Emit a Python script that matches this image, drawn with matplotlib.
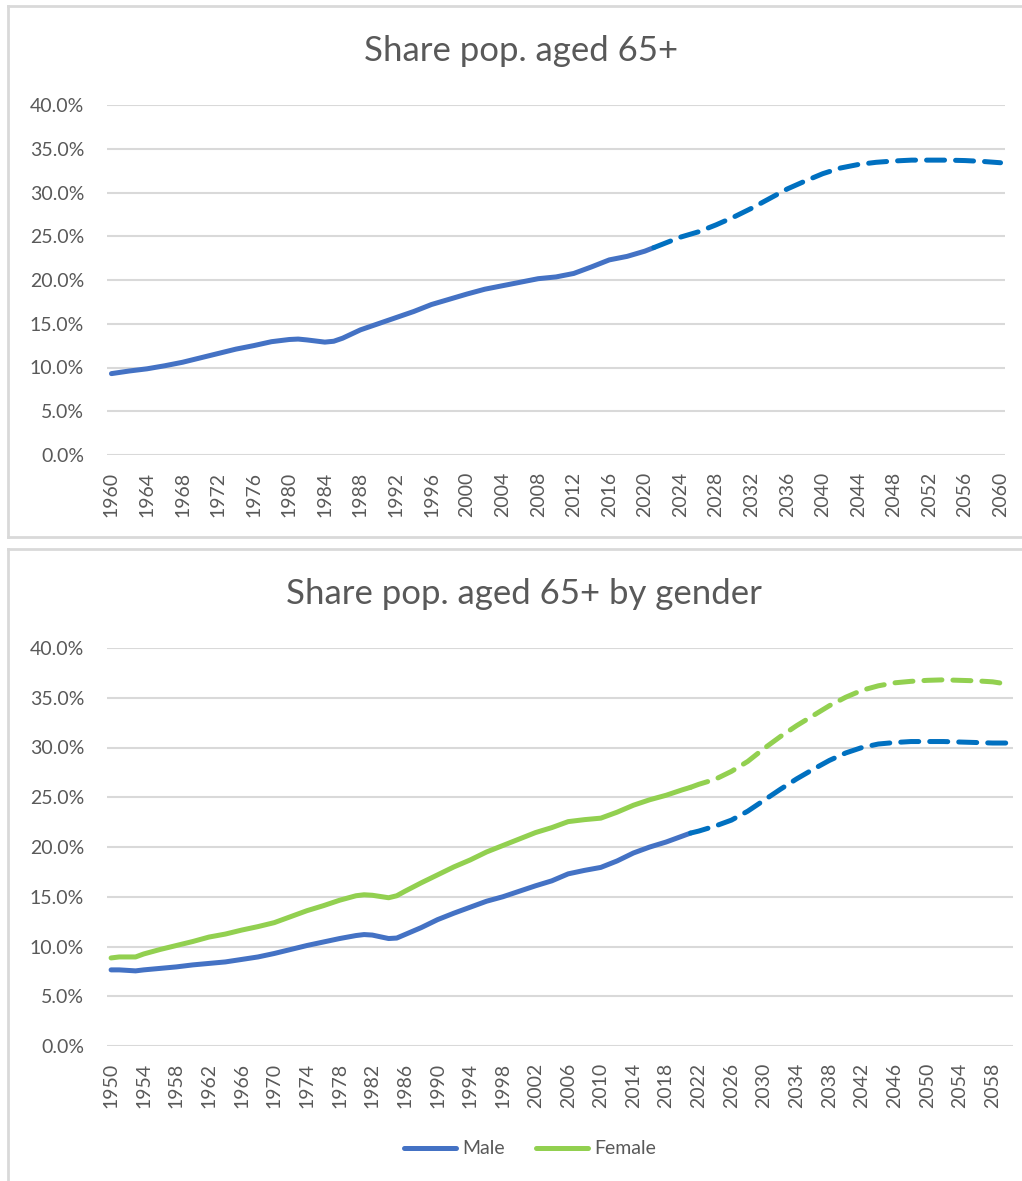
import matplotlib
matplotlib.use('Agg')
import matplotlib.pyplot as plt
from matplotlib.lines import Line2D
from matplotlib.ticker import FuncFormatter

plt.rcParams['font.family'] = ['Lato', 'DejaVu Sans']

# --- top chart: total share aged 65+ (percent) ---
tot_years = [1960, 1962, 1964, 1966, 1968, 1970, 1972, 1974, 1976, 1978, 1980, 1981,
             1982, 1984, 1985, 1986, 1988, 1990, 1992, 1994, 1996, 1998, 2000, 2002,
             2004, 2006, 2008, 2010, 2012, 2014, 2016, 2018, 2020, 2021]
tot_vals = [9.3, 9.6, 9.85, 10.2, 10.6, 11.1, 11.6, 12.1, 12.5, 12.95, 13.2, 13.25,
            13.15, 12.9, 13.0, 13.35, 14.3, 15.0, 15.7, 16.4, 17.2, 17.8, 18.4, 18.95,
            19.35, 19.75, 20.15, 20.35, 20.75, 21.5, 22.3, 22.7, 23.3, 23.7]
tot_proj_years = [2021, 2024, 2026, 2028, 2030, 2032, 2034, 2036, 2038, 2040, 2042,
                  2044, 2046, 2048, 2050, 2052, 2054, 2056, 2058, 2060]
tot_proj_vals = [23.7, 24.9, 25.5, 26.3, 27.2, 28.2, 29.3, 30.4, 31.3, 32.15, 32.8,
                 33.2, 33.45, 33.6, 33.7, 33.7, 33.7, 33.65, 33.55, 33.4]

# --- bottom chart: by gender (percent) ---
hist_years = [1950, 1951, 1952, 1953, 1954, 1956, 1958, 1960, 1962, 1964, 1966, 1968,
              1970, 1972, 1974, 1976, 1978, 1980, 1981, 1982, 1984, 1985, 1986, 1988,
              1990, 1992, 1994, 1996, 1998, 2000, 2002, 2004, 2006, 2008, 2010, 2012,
              2014, 2016, 2018, 2020, 2021]
male_vals = [7.65, 7.65, 7.6, 7.55, 7.65, 7.8, 7.95, 8.15, 8.3, 8.45, 8.7, 8.95,
             9.3, 9.7, 10.1, 10.45, 10.8, 11.1, 11.2, 11.15, 10.8, 10.85, 11.2, 11.9,
             12.7, 13.35, 13.95, 14.55, 15.0, 15.55, 16.1, 16.6, 17.3, 17.65, 17.95, 18.6,
             19.4, 20.0, 20.5, 21.1, 21.4]
female_vals = [8.85, 8.95, 8.95, 8.95, 9.25, 9.7, 10.1, 10.5, 10.95, 11.25, 11.65, 12.0,
               12.4, 13.0, 13.6, 14.1, 14.65, 15.1, 15.2, 15.15, 14.9, 15.1, 15.55, 16.4,
               17.2, 18.0, 18.7, 19.5, 20.15, 20.8, 21.45, 21.95, 22.55, 22.75, 22.9, 23.5,
               24.2, 24.75, 25.2, 25.75, 26.0]
proj_years = [2021, 2022, 2024, 2026, 2028, 2030, 2032, 2034, 2036, 2038, 2040, 2042,
              2044, 2046, 2048, 2050, 2052, 2054, 2056, 2058, 2060]
male_proj = [21.4, 21.6, 22.1, 22.7, 23.6, 24.7, 25.8, 26.85, 27.8, 28.7, 29.45, 30.0,
             30.35, 30.5, 30.6, 30.6, 30.6, 30.55, 30.5, 30.45, 30.45]
female_proj = [26.0, 26.3, 26.8, 27.6, 28.6, 29.9, 31.1, 32.2, 33.2, 34.2, 35.05, 35.75,
               36.2, 36.5, 36.65, 36.75, 36.8, 36.75, 36.7, 36.6, 36.35]

BLUE = '#4472C4'
BLUE_D = '#0070C0'
GREEN = '#92D050'
TXT = '#595959'
GRID = '#D9D9D9'

W, H = 1022, 1181
fig = plt.figure(figsize=(W / 100, H / 100), dpi=100)


def px_axes(left, top, right, bottom):
    return fig.add_axes([left / W, 1 - bottom / H, (right - left) / W, (bottom - top) / H])


def panel_border(top, bottom=None):
    kw = dict(transform=fig.transFigure, color=GRID, lw=2)
    fig.add_artist(Line2D([8 / W, 8 / W], [1 - top / H, 1 - (bottom or H + 5) / H], **kw))
    fig.add_artist(Line2D([8 / W, 1.01], [1 - top / H, 1 - top / H], **kw))
    if bottom:
        fig.add_artist(Line2D([8 / W, 1.01], [1 - bottom / H, 1 - bottom / H], **kw))


def style(ax, xlim, ticks):
    ax.set_ylim(0, 40)
    ax.set_xlim(*xlim)
    ax.set_yticks(range(0, 41, 5))
    ax.yaxis.set_major_formatter(FuncFormatter(lambda v, p: f'{v:.1f}%'))
    ax.set_xticks(ticks)
    ax.set_xticklabels([str(t) for t in ticks], rotation=90, fontsize=14, color=TXT)
    ax.tick_params(axis='y', labelsize=14, colors=TXT, length=0, pad=16.5)
    ax.tick_params(axis='x', colors=TXT, length=0, pad=12)
    for s in ax.spines.values():
        s.set_visible(False)
    ax.grid(axis='y', color=GRID, lw=1.5)
    ax.set_axisbelow(True)


line_kw = dict(lw=3.6, solid_capstyle='round', solid_joinstyle='round')
dash_kw = dict(lw=3.6, ls=(0, (3.6, 2.2)), dash_capstyle='round')

# top chart
panel_border(6, 537)
ax1 = px_axes(107, 105, 1005, 455)
ax1.plot(tot_years, tot_vals, color=BLUE, **line_kw)
ax1.plot(tot_proj_years, tot_proj_vals, color=BLUE_D, **dash_kw)
style(ax1, (1959.5, 2060.5), list(range(1960, 2061, 4)))
fig.text(521 / W, 1 - 51 / H, 'Share pop. aged 65+', ha='center', va='center',
         fontsize=25, color=TXT)

# bottom chart
panel_border(549)
ax2 = px_axes(107, 648, 1013, 1046)
ax2.plot(hist_years, male_vals, color=BLUE, **line_kw)
ax2.plot(hist_years, female_vals, color=GREEN, **line_kw)
ax2.plot(proj_years, male_proj, color=BLUE_D, **dash_kw)
ax2.plot(proj_years, female_proj, color=GREEN, **dash_kw)
style(ax2, (1949.5, 2060.5), list(range(1950, 2059, 4)))
fig.text(524 / W, 1 - 594 / H, 'Share pop. aged 65+ by gender', ha='center', va='center',
         fontsize=25, color=TXT)

handles = [Line2D([], [], color=BLUE, lw=3.6, solid_capstyle='round'),
           Line2D([], [], color=GREEN, lw=3.6, solid_capstyle='round')]
fig.legend(handles, ['Male', 'Female'], loc='center', bbox_to_anchor=(530 / W, 1 - 1149 / H),
           ncol=2, frameon=False, fontsize=14, labelcolor=TXT, handlelength=2.7,
           handletextpad=0.3, columnspacing=1.6)

fig.savefig('out.png', dpi=100, facecolor='white')
